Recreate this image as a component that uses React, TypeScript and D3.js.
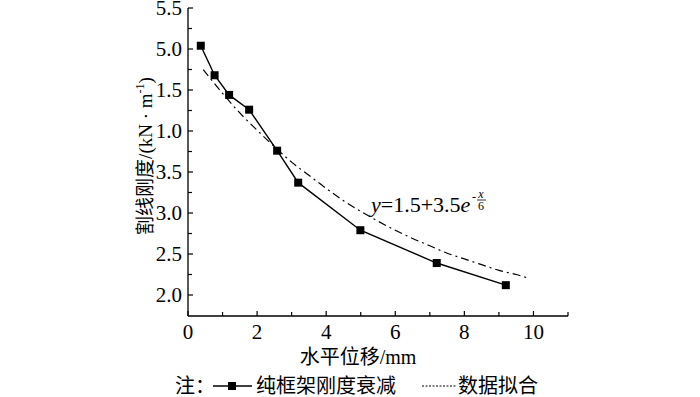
import React, { useEffect, useRef } from 'react';
import * as d3 from 'd3';

// measured stiffness decay (solid line with squares)
const dispX = [0.37, 0.77, 1.19, 1.77, 2.58, 3.19, 4.99, 7.2, 9.2];
const stiffY = [5.04, 4.68, 4.44, 4.26, 3.76, 3.37, 2.79, 2.39, 2.12];

// fitted curve
const fitX = [0.44, 1, 1.5, 2, 2.5, 3, 3.5, 4, 4.5, 5, 5.5, 6, 6.5, 7, 7.5, 8, 8.5, 9, 9.5, 9.82];
const fitY = [4.75, 4.46, 4.22, 4.01, 3.81, 3.62, 3.46, 3.30, 3.15, 3.02, 2.90, 2.79, 2.69, 2.60, 2.51, 2.44, 2.37, 2.30, 2.25, 2.21];

const yTicks = [2.0, 2.5, 3.0, 3.5, 4.0, 4.5, 5.0, 5.5];
const yTickLabels = ['2.0', '2.5', '3.0', '3.5', '1.0', '1.5', '5.0', '5.5'];
const xTicks = [0, 2, 4, 6, 8, 10];

const SERIF = '"Liberation Serif", "Times New Roman", serif';
const CJK = '"Noto Sans CJK SC", sans-serif';

const App = () => {
  const svgRef = useRef<SVGSVGElement>(null);

  useEffect(() => {
    const svg = d3.select(svgRef.current);
    svg.selectAll('*').remove();

    const x = d3.scaleLinear().domain([0, 11]).range([188, 568]);
    const y = d3.scaleLinear().domain([1.744, 5.5]).range([316, 8]);

    const g = svg.append('g');

    // axes lines
    g.append('line').attr('x1', x(0)).attr('x2', x(0)).attr('y1', y(5.5)).attr('y2', y(1.744))
      .attr('stroke', '#000').attr('stroke-width', 1.3);
    g.append('line').attr('x1', x(0)).attr('x2', x(11)).attr('y1', y(1.744)).attr('y2', y(1.744))
      .attr('stroke', '#000').attr('stroke-width', 1.3);

    // y ticks (inward)
    const yMinor = d3.range(2.25, 5.5, 0.5);
    g.selectAll('.yt').data(yTicks).enter().append('line')
      .attr('x1', x(0)).attr('x2', x(0) + 5)
      .attr('y1', d => y(d)).attr('y2', d => y(d))
      .attr('stroke', '#000').attr('stroke-width', 1.2);
    g.selectAll('.ym').data(yMinor).enter().append('line')
      .attr('x1', x(0)).attr('x2', x(0) + 4)
      .attr('y1', d => y(d)).attr('y2', d => y(d))
      .attr('stroke', '#000').attr('stroke-width', 1.2);
    g.selectAll('.yl').data(yTicks).enter().append('text')
      .attr('x', x(0) - 6).attr('y', d => y(d)).attr('dy', '0.35em')
      .attr('text-anchor', 'end').attr('font-family', SERIF).attr('font-size', 21)
      .text((d, i) => yTickLabels[i]);

    // x ticks (inward)
    const xMinor = [1, 3, 5, 7, 9, 11];
    g.selectAll('.xt').data(xTicks).enter().append('line')
      .attr('x1', d => x(d)).attr('x2', d => x(d))
      .attr('y1', y(1.744)).attr('y2', y(1.744) - 5)
      .attr('stroke', '#000').attr('stroke-width', 1.2);
    g.selectAll('.xm').data(xMinor).enter().append('line')
      .attr('x1', d => x(d)).attr('x2', d => x(d))
      .attr('y1', y(1.744)).attr('y2', y(1.744) - 4)
      .attr('stroke', '#000').attr('stroke-width', 1.2);
    g.selectAll('.xl').data(xTicks).enter().append('text')
      .attr('x', d => x(d)).attr('y', 339)
      .attr('text-anchor', 'middle').attr('font-family', SERIF).attr('font-size', 21)
      .text(d => String(d));

    // axis titles
    const xt = g.append('text').attr('x', 358).attr('y', 364).attr('text-anchor', 'middle')
      .attr('font-size', 20);
    xt.append('tspan').attr('font-family', CJK).text('水平位移');
    xt.append('tspan').attr('font-family', SERIF).text('/mm');

    const yt = g.append('text').attr('transform', 'translate(152,156) rotate(-90)')
      .attr('text-anchor', 'middle').attr('font-size', 19);
    yt.append('tspan').attr('font-family', CJK).text('割线刚度');
    yt.append('tspan').attr('font-family', SERIF).text('/(kN');
    yt.append('tspan').attr('font-family', SERIF).text(' · ');
    yt.append('tspan').attr('font-family', SERIF).text('m');
    yt.append('tspan').attr('font-family', SERIF).attr('font-size', 12).attr('dy', -8).text('-1');
    yt.append('tspan').attr('font-family', SERIF).attr('dy', 8).text(')');

    // fit curve
    const fitData = fitX.map((v, i) => [v, fitY[i]] as [number, number]);
    g.append('path').datum(fitData)
      .attr('fill', 'none').attr('stroke', '#000').attr('stroke-width', 1.2)
      .attr('stroke-dasharray', '8,4,2,4')
      .attr('d', d3.line().curve(d3.curveMonotoneX).x(d => x(d[0])).y(d => y(d[1])));

    // measured line
    const data = dispX.map((v, i) => [v, stiffY[i]] as [number, number]);
    g.append('path').datum(data)
      .attr('fill', 'none').attr('stroke', '#000').attr('stroke-width', 1.4)
      .attr('d', d3.line().x(d => x(d[0])).y(d => y(d[1])));
    g.selectAll('.pt').data(data).enter().append('rect')
      .attr('x', d => x(d[0]) - 4).attr('y', d => y(d[1]) - 4)
      .attr('width', 8).attr('height', 8).attr('fill', '#000');

    // equation
    const eq = g.append('text').attr('x', 371).attr('y', 212).attr('font-family', SERIF).attr('font-size', 22);
    eq.append('tspan').attr('font-style', 'italic').text('y');
    eq.append('tspan').text('=1.5+3.5');
    eq.append('tspan').attr('font-style', 'italic').text('e');
    g.append('text').attr('x', 472).attr('y', 201).attr('font-family', SERIF).attr('font-size', 12).text('-');
    g.append('text').attr('x', 481).attr('y', 198).attr('text-anchor', 'middle').attr('font-family', SERIF)
      .attr('font-size', 12).attr('font-style', 'italic').text('x');
    g.append('line').attr('x1', 477).attr('x2', 486).attr('y1', 200).attr('y2', 200).attr('stroke', '#000').attr('stroke-width', 0.8);
    g.append('text').attr('x', 481).attr('y', 210).attr('text-anchor', 'middle').attr('font-family', SERIF)
      .attr('font-size', 12).text('6');

    // legend
    const ly = 386;
    g.append('text').attr('x', 175).attr('y', ly).attr('dy', '0.35em').attr('font-family', CJK)
      .attr('font-size', 20).text('注：');
    g.append('line').attr('x1', 213).attr('x2', 252).attr('y1', ly).attr('y2', ly)
      .attr('stroke', '#000').attr('stroke-width', 1.4);
    g.append('rect').attr('x', 228).attr('y', ly - 4).attr('width', 8).attr('height', 8).attr('fill', '#000');
    g.append('text').attr('x', 256).attr('y', ly).attr('dy', '0.35em').attr('font-family', CJK)
      .attr('font-size', 20).text('纯框架刚度衰减');
    g.append('line').attr('x1', 422).attr('x2', 457).attr('y1', ly).attr('y2', ly)
      .attr('stroke', '#000').attr('stroke-width', 1).attr('stroke-dasharray', '2,1.5');
    g.append('text').attr('x', 458).attr('y', ly).attr('dy', '0.35em').attr('font-family', CJK)
      .attr('font-size', 20).text('数据拟合');
  }, []);

  return (
    <svg ref={svgRef} width={700} height={397}
      style={{ position: 'absolute', left: 0, top: 0, background: '#fff' }} />
  );
};

export default App;
